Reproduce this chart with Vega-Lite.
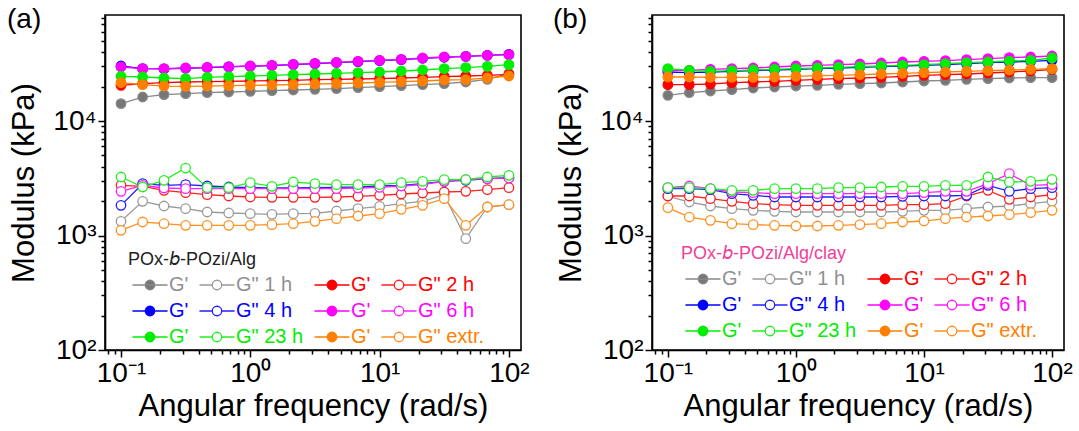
{
"$schema": "https://vega.github.io/schema/vega-lite/v6.json",
"background": "white",
"padding": {"left": 6, "top": 2, "right": 2, "bottom": 2},
"config": {
  "font": "Liberation Sans",
  "view": {"stroke": "black", "strokeWidth": 1.6},
  "axis": {"grid": false, "domainColor": "black", "domainWidth": 1.6, "tickColor": "black", "tickWidth": 1.5,
           "labelFont": "Liberation Sans", "labelFontSize": 28, "labelColor": "black", "labelPadding": 2,
           "titleFont": "Liberation Sans", "titleFontSize": 31, "titleFontWeight": "normal", "titleColor": "black",
           "labelOverlap": false, "labelFlush": false},
  "axisY": {"titlePadding": 12},
  "legend": {"orient": "none", "direction": "horizontal", "columns": 4, "symbolSize": 90, "symbolStrokeWidth": 1.3, "symbolOffset": 12, "labelOffset": 9,
             "columnPadding": 6, "rowPadding": 6, "labelFont": "Liberation Sans", "labelFontSize": 20, "labelLimit": 0,
             "titleFont": "Liberation Sans", "titleFontSize": 18, "titleFontWeight": "normal", "titlePadding": 6, "titleLimit": 0, "padding": 0}
},
"spacing": 22,
"resolve": {"scale": {"color": "independent", "fill": "independent", "x": "independent", "y": "independent"}, "legend": {"color": "independent"}},
"datasets": {
"a": [
{"k":"G' 1 h","f":0.1,"v":14170},{"k":"G' 1 h","f":0.147,"v":16200},{"k":"G' 1 h","f":0.215,"v":16980},{"k":"G' 1 h","f":0.316,"v":17320},{"k":"G' 1 h","f":0.464,"v":17670},{"k":"G' 1 h","f":0.681,"v":17920},{"k":"G' 1 h","f":1,"v":18160},{"k":"G' 1 h","f":1.47,"v":18400},{"k":"G' 1 h","f":2.15,"v":18650},{"k":"G' 1 h","f":3.16,"v":18900},{"k":"G' 1 h","f":4.64,"v":19160},{"k":"G' 1 h","f":6.81,"v":19540},{"k":"G' 1 h","f":10,"v":19940},{"k":"G' 1 h","f":14.7,"v":20340},{"k":"G' 1 h","f":21.5,"v":20760},{"k":"G' 1 h","f":31.6,"v":21180},{"k":"G' 1 h","f":46.4,"v":21910},{"k":"G' 1 h","f":68.1,"v":23120},{"k":"G' 1 h","f":100,"v":25900},
{"k":"G'' 1 h","f":0.1,"v":1330},{"k":"G'' 1 h","f":0.147,"v":1988},{"k":"G'' 1 h","f":0.215,"v":1810},{"k":"G'' 1 h","f":0.316,"v":1715},{"k":"G'' 1 h","f":0.464,"v":1604},{"k":"G'' 1 h","f":0.681,"v":1572},{"k":"G'' 1 h","f":1,"v":1551},{"k":"G'' 1 h","f":1.47,"v":1530},{"k":"G'' 1 h","f":2.15,"v":1551},{"k":"G'' 1 h","f":3.16,"v":1562},{"k":"G'' 1 h","f":4.64,"v":1637},{"k":"G'' 1 h","f":6.81,"v":1715},{"k":"G'' 1 h","f":10,"v":1797},{"k":"G'' 1 h","f":14.7,"v":1897},{"k":"G'' 1 h","f":21.5,"v":1988},{"k":"G'' 1 h","f":31.6,"v":2273},{"k":"G'' 1 h","f":46.4,"v":938},{"k":"G'' 1 h","f":68.1,"v":1774},{"k":"G'' 1 h","f":100,"v":1858},
{"k":"G' 2 h","f":0.1,"v":20480},{"k":"G' 2 h","f":0.147,"v":21180},{"k":"G' 2 h","f":0.215,"v":21620},{"k":"G' 2 h","f":0.316,"v":21910},{"k":"G' 2 h","f":0.464,"v":22060},{"k":"G' 2 h","f":0.681,"v":22210},{"k":"G' 2 h","f":1,"v":22360},{"k":"G' 2 h","f":1.47,"v":22510},{"k":"G' 2 h","f":2.15,"v":22660},{"k":"G' 2 h","f":3.16,"v":22970},{"k":"G' 2 h","f":4.64,"v":23120},{"k":"G' 2 h","f":6.81,"v":23280},{"k":"G' 2 h","f":10,"v":23430},{"k":"G' 2 h","f":14.7,"v":23750},{"k":"G' 2 h","f":21.5,"v":24060},{"k":"G' 2 h","f":31.6,"v":24390},{"k":"G' 2 h","f":46.4,"v":24720},{"k":"G' 2 h","f":68.1,"v":25050},{"k":"G' 2 h","f":100,"v":25560},
{"k":"G'' 2 h","f":0.1,"v":2742},{"k":"G'' 2 h","f":0.147,"v":2688},{"k":"G'' 2 h","f":0.215,"v":2480},{"k":"G'' 2 h","f":0.316,"v":2366},{"k":"G'' 2 h","f":0.464,"v":2273},{"k":"G'' 2 h","f":0.681,"v":2213},{"k":"G'' 2 h","f":1,"v":2169},{"k":"G'' 2 h","f":1.47,"v":2154},{"k":"G'' 2 h","f":2.15,"v":2154},{"k":"G'' 2 h","f":3.16,"v":2154},{"k":"G'' 2 h","f":4.64,"v":2169},{"k":"G'' 2 h","f":6.81,"v":2198},{"k":"G'' 2 h","f":10,"v":2242},{"k":"G'' 2 h","f":14.7,"v":2304},{"k":"G'' 2 h","f":21.5,"v":2351},{"k":"G'' 2 h","f":31.6,"v":2399},{"k":"G'' 2 h","f":46.4,"v":2430},{"k":"G'' 2 h","f":68.1,"v":2513},{"k":"G'' 2 h","f":100,"v":2617},
{"k":"G' 4 h","f":0.1,"v":30220},{"k":"G' 4 h","f":0.147,"v":28650},{"k":"G' 4 h","f":0.215,"v":28500},{"k":"G' 4 h","f":0.316,"v":28900},{"k":"G' 4 h","f":0.464,"v":29300},{"k":"G' 4 h","f":0.681,"v":29700},{"k":"G' 4 h","f":1,"v":30100},{"k":"G' 4 h","f":1.47,"v":30500},{"k":"G' 4 h","f":2.15,"v":31100},{"k":"G' 4 h","f":3.16,"v":31700},{"k":"G' 4 h","f":4.64,"v":32400},{"k":"G' 4 h","f":6.81,"v":33000},{"k":"G' 4 h","f":10,"v":33700},{"k":"G' 4 h","f":14.7,"v":34400},{"k":"G' 4 h","f":21.5,"v":35300},{"k":"G' 4 h","f":31.6,"v":36000},{"k":"G' 4 h","f":46.4,"v":36700},{"k":"G' 4 h","f":68.1,"v":37500},{"k":"G' 4 h","f":100,"v":38200},
{"k":"G'' 4 h","f":0.1,"v":1834},{"k":"G'' 4 h","f":0.147,"v":2835},{"k":"G'' 4 h","f":0.215,"v":2742},{"k":"G'' 4 h","f":0.316,"v":2779},{"k":"G'' 4 h","f":0.464,"v":2706},{"k":"G'' 4 h","f":0.681,"v":2652},{"k":"G'' 4 h","f":1,"v":2617},{"k":"G'' 4 h","f":1.47,"v":2599},{"k":"G'' 4 h","f":2.15,"v":2599},{"k":"G'' 4 h","f":3.16,"v":2617},{"k":"G'' 4 h","f":4.64,"v":2634},{"k":"G'' 4 h","f":6.81,"v":2652},{"k":"G'' 4 h","f":10,"v":2706},{"k":"G'' 4 h","f":14.7,"v":2742},{"k":"G'' 4 h","f":21.5,"v":2835},{"k":"G'' 4 h","f":31.6,"v":2972},{"k":"G'' 4 h","f":46.4,"v":3032},{"k":"G'' 4 h","f":68.1,"v":3136},{"k":"G'' 4 h","f":100,"v":3200},
{"k":"G' 6 h","f":0.1,"v":29620},{"k":"G' 6 h","f":0.147,"v":28650},{"k":"G' 6 h","f":0.215,"v":28650},{"k":"G' 6 h","f":0.316,"v":29030},{"k":"G' 6 h","f":0.464,"v":29420},{"k":"G' 6 h","f":0.681,"v":29820},{"k":"G' 6 h","f":1,"v":30220},{"k":"G' 6 h","f":1.47,"v":30630},{"k":"G' 6 h","f":2.15,"v":31250},{"k":"G' 6 h","f":3.16,"v":31890},{"k":"G' 6 h","f":4.64,"v":32540},{"k":"G' 6 h","f":6.81,"v":33200},{"k":"G' 6 h","f":10,"v":33870},{"k":"G' 6 h","f":14.7,"v":34560},{"k":"G' 6 h","f":21.5,"v":35500},{"k":"G' 6 h","f":31.6,"v":36220},{"k":"G' 6 h","f":46.4,"v":36700},{"k":"G' 6 h","f":68.1,"v":37450},{"k":"G' 6 h","f":100,"v":37950},
{"k":"G'' 6 h","f":0.1,"v":2430},{"k":"G'' 6 h","f":0.147,"v":2742},{"k":"G'' 6 h","f":0.215,"v":2599},{"k":"G'' 6 h","f":0.316,"v":2565},{"k":"G'' 6 h","f":0.464,"v":2565},{"k":"G'' 6 h","f":0.681,"v":2565},{"k":"G'' 6 h","f":1,"v":2565},{"k":"G'' 6 h","f":1.47,"v":2565},{"k":"G'' 6 h","f":2.15,"v":2565},{"k":"G'' 6 h","f":3.16,"v":2565},{"k":"G'' 6 h","f":4.64,"v":2565},{"k":"G'' 6 h","f":6.81,"v":2599},{"k":"G'' 6 h","f":10,"v":2634},{"k":"G'' 6 h","f":14.7,"v":2706},{"k":"G'' 6 h","f":21.5,"v":2779},{"k":"G'' 6 h","f":31.6,"v":2972},{"k":"G'' 6 h","f":46.4,"v":3073},{"k":"G'' 6 h","f":68.1,"v":3136},{"k":"G'' 6 h","f":100,"v":3178},
{"k":"G' 23 h","f":0.1,"v":24550},{"k":"G' 23 h","f":0.147,"v":24230},{"k":"G' 23 h","f":0.215,"v":23750},{"k":"G' 23 h","f":0.316,"v":23430},{"k":"G' 23 h","f":0.464,"v":24060},{"k":"G' 23 h","f":0.681,"v":24390},{"k":"G' 23 h","f":1,"v":24720},{"k":"G' 23 h","f":1.47,"v":25050},{"k":"G' 23 h","f":2.15,"v":25390},{"k":"G' 23 h","f":3.16,"v":25730},{"k":"G' 23 h","f":4.64,"v":26080},{"k":"G' 23 h","f":6.81,"v":26430},{"k":"G' 23 h","f":10,"v":26790},{"k":"G' 23 h","f":14.7,"v":27330},{"k":"G' 23 h","f":21.5,"v":27890},{"k":"G' 23 h","f":31.6,"v":28650},{"k":"G' 23 h","f":46.4,"v":29220},{"k":"G' 23 h","f":68.1,"v":30020},{"k":"G' 23 h","f":100,"v":31040},
{"k":"G'' 23 h","f":0.1,"v":3243},{"k":"G'' 23 h","f":0.147,"v":2652},{"k":"G'' 23 h","f":0.215,"v":3032},{"k":"G'' 23 h","f":0.316,"v":3885},{"k":"G'' 23 h","f":0.464,"v":2617},{"k":"G'' 23 h","f":0.681,"v":2617},{"k":"G'' 23 h","f":1,"v":2893},{"k":"G'' 23 h","f":1.47,"v":2688},{"k":"G'' 23 h","f":2.15,"v":2932},{"k":"G'' 23 h","f":3.16,"v":2835},{"k":"G'' 23 h","f":4.64,"v":2779},{"k":"G'' 23 h","f":6.81,"v":2779},{"k":"G'' 23 h","f":10,"v":2779},{"k":"G'' 23 h","f":14.7,"v":2893},{"k":"G'' 23 h","f":21.5,"v":2972},{"k":"G'' 23 h","f":31.6,"v":3073},{"k":"G'' 23 h","f":46.4,"v":3073},{"k":"G'' 23 h","f":68.1,"v":3243},{"k":"G'' 23 h","f":100,"v":3353},
{"k":"G' extr.","f":0.1,"v":21620},{"k":"G' extr.","f":0.147,"v":20760},{"k":"G' extr.","f":0.215,"v":20200},{"k":"G' extr.","f":0.316,"v":20080},{"k":"G' extr.","f":0.464,"v":20200},{"k":"G' extr.","f":0.681,"v":20340},{"k":"G' extr.","f":1,"v":20480},{"k":"G' extr.","f":1.47,"v":20620},{"k":"G' extr.","f":2.15,"v":20760},{"k":"G' extr.","f":3.16,"v":21040},{"k":"G' extr.","f":4.64,"v":21180},{"k":"G' extr.","f":6.81,"v":21470},{"k":"G' extr.","f":10,"v":21760},{"k":"G' extr.","f":14.7,"v":22060},{"k":"G' extr.","f":21.5,"v":22360},{"k":"G' extr.","f":31.6,"v":22810},{"k":"G' extr.","f":46.4,"v":22970},{"k":"G' extr.","f":68.1,"v":23750},{"k":"G' extr.","f":100,"v":24720},
{"k":"G'' extr.","f":0.1,"v":1109},{"k":"G'' extr.","f":0.147,"v":1312},{"k":"G'' extr.","f":0.215,"v":1268},{"k":"G'' extr.","f":0.316,"v":1227},{"k":"G'' extr.","f":0.464,"v":1227},{"k":"G'' extr.","f":0.681,"v":1227},{"k":"G'' extr.","f":1,"v":1227},{"k":"G'' extr.","f":1.47,"v":1243},{"k":"G'' extr.","f":2.15,"v":1268},{"k":"G'' extr.","f":3.16,"v":1330},{"k":"G'' extr.","f":4.64,"v":1403},{"k":"G'' extr.","f":6.81,"v":1480},{"k":"G'' extr.","f":10,"v":1551},{"k":"G'' extr.","f":14.7,"v":1692},{"k":"G'' extr.","f":21.5,"v":1834},{"k":"G'' extr.","f":31.6,"v":2097},{"k":"G'' extr.","f":46.4,"v":1227},{"k":"G'' extr.","f":68.1,"v":1774},{"k":"G'' extr.","f":100,"v":1858}
],
"b": [
{"k":"G' 1 h","f":0.1,"v":16750},{"k":"G' 1 h","f":0.147,"v":17670},{"k":"G' 1 h","f":0.215,"v":18280},{"k":"G' 1 h","f":0.316,"v":18780},{"k":"G' 1 h","f":0.464,"v":19420},{"k":"G' 1 h","f":0.681,"v":19810},{"k":"G' 1 h","f":1,"v":20200},{"k":"G' 1 h","f":1.47,"v":20480},{"k":"G' 1 h","f":2.15,"v":20900},{"k":"G' 1 h","f":3.16,"v":21180},{"k":"G' 1 h","f":4.64,"v":21470},{"k":"G' 1 h","f":6.81,"v":21910},{"k":"G' 1 h","f":10,"v":22360},{"k":"G' 1 h","f":14.7,"v":22660},{"k":"G' 1 h","f":21.5,"v":23120},{"k":"G' 1 h","f":31.6,"v":23430},{"k":"G' 1 h","f":46.4,"v":23750},{"k":"G' 1 h","f":68.1,"v":23900},{"k":"G' 1 h","f":100,"v":23900},
{"k":"G'' 1 h","f":0.1,"v":2213},{"k":"G'' 1 h","f":0.147,"v":1961},{"k":"G'' 1 h","f":0.215,"v":1810},{"k":"G'' 1 h","f":0.316,"v":1715},{"k":"G'' 1 h","f":0.464,"v":1659},{"k":"G'' 1 h","f":0.681,"v":1626},{"k":"G'' 1 h","f":1,"v":1604},{"k":"G'' 1 h","f":1.47,"v":1604},{"k":"G'' 1 h","f":2.15,"v":1604},{"k":"G'' 1 h","f":3.16,"v":1604},{"k":"G'' 1 h","f":4.64,"v":1604},{"k":"G'' 1 h","f":6.81,"v":1626},{"k":"G'' 1 h","f":10,"v":1659},{"k":"G'' 1 h","f":14.7,"v":1659},{"k":"G'' 1 h","f":21.5,"v":1715},{"k":"G'' 1 h","f":31.6,"v":1774},{"k":"G'' 1 h","f":46.4,"v":1810},{"k":"G'' 1 h","f":68.1,"v":1897},{"k":"G'' 1 h","f":100,"v":1988},
{"k":"G' 2 h","f":0.1,"v":20760},{"k":"G' 2 h","f":0.147,"v":20760},{"k":"G' 2 h","f":0.215,"v":21040},{"k":"G' 2 h","f":0.316,"v":21620},{"k":"G' 2 h","f":0.464,"v":21910},{"k":"G' 2 h","f":0.681,"v":22210},{"k":"G' 2 h","f":1,"v":22660},{"k":"G' 2 h","f":1.47,"v":23120},{"k":"G' 2 h","f":2.15,"v":23430},{"k":"G' 2 h","f":3.16,"v":23750},{"k":"G' 2 h","f":4.64,"v":24060},{"k":"G' 2 h","f":6.81,"v":24550},{"k":"G' 2 h","f":10,"v":25050},{"k":"G' 2 h","f":14.7,"v":25390},{"k":"G' 2 h","f":21.5,"v":25730},{"k":"G' 2 h","f":31.6,"v":26260},{"k":"G' 2 h","f":46.4,"v":26790},{"k":"G' 2 h","f":68.1,"v":27330},{"k":"G' 2 h","f":100,"v":28270},
{"k":"G'' 2 h","f":0.1,"v":2213},{"k":"G'' 2 h","f":0.147,"v":2213},{"k":"G'' 2 h","f":0.215,"v":2097},{"k":"G'' 2 h","f":0.316,"v":1988},{"k":"G'' 2 h","f":0.464,"v":1897},{"k":"G'' 2 h","f":0.681,"v":1858},{"k":"G'' 2 h","f":1,"v":1834},{"k":"G'' 2 h","f":1.47,"v":1834},{"k":"G'' 2 h","f":2.15,"v":1834},{"k":"G'' 2 h","f":3.16,"v":1834},{"k":"G'' 2 h","f":4.64,"v":1834},{"k":"G'' 2 h","f":6.81,"v":1858},{"k":"G'' 2 h","f":10,"v":1858},{"k":"G'' 2 h","f":14.7,"v":1897},{"k":"G'' 2 h","f":21.5,"v":2213},{"k":"G'' 2 h","f":31.6,"v":2480},{"k":"G'' 2 h","f":46.4,"v":2069},{"k":"G'' 2 h","f":68.1,"v":2169},{"k":"G'' 2 h","f":100,"v":2273},
{"k":"G' 4 h","f":0.1,"v":26790},{"k":"G' 4 h","f":0.147,"v":26430},{"k":"G' 4 h","f":0.215,"v":26790},{"k":"G' 4 h","f":0.316,"v":27140},{"k":"G' 4 h","f":0.464,"v":27510},{"k":"G' 4 h","f":0.681,"v":27890},{"k":"G' 4 h","f":1,"v":28270},{"k":"G' 4 h","f":1.47,"v":28650},{"k":"G' 4 h","f":2.15,"v":29030},{"k":"G' 4 h","f":3.16,"v":29420},{"k":"G' 4 h","f":4.64,"v":29820},{"k":"G' 4 h","f":6.81,"v":30220},{"k":"G' 4 h","f":10,"v":30630},{"k":"G' 4 h","f":14.7,"v":31040},{"k":"G' 4 h","f":21.5,"v":31670},{"k":"G' 4 h","f":31.6,"v":32320},{"k":"G' 4 h","f":46.4,"v":32750},{"k":"G' 4 h","f":68.1,"v":33200},{"k":"G' 4 h","f":100,"v":33870},
{"k":"G'' 4 h","f":0.1,"v":2565},{"k":"G'' 4 h","f":0.147,"v":2565},{"k":"G'' 4 h","f":0.215,"v":2513},{"k":"G'' 4 h","f":0.316,"v":2319},{"k":"G'' 4 h","f":0.464,"v":2242},{"k":"G'' 4 h","f":0.681,"v":2169},{"k":"G'' 4 h","f":1,"v":2169},{"k":"G'' 4 h","f":1.47,"v":2169},{"k":"G'' 4 h","f":2.15,"v":2169},{"k":"G'' 4 h","f":3.16,"v":2169},{"k":"G'' 4 h","f":4.64,"v":2169},{"k":"G'' 4 h","f":6.81,"v":2198},{"k":"G'' 4 h","f":10,"v":2213},{"k":"G'' 4 h","f":14.7,"v":2213},{"k":"G'' 4 h","f":21.5,"v":2242},{"k":"G'' 4 h","f":31.6,"v":2742},{"k":"G'' 4 h","f":46.4,"v":2430},{"k":"G'' 4 h","f":68.1,"v":2565},{"k":"G'' 4 h","f":100,"v":2617},
{"k":"G' 6 h","f":0.1,"v":27700},{"k":"G' 6 h","f":0.147,"v":27700},{"k":"G' 6 h","f":0.215,"v":28270},{"k":"G' 6 h","f":0.316,"v":28650},{"k":"G' 6 h","f":0.464,"v":29030},{"k":"G' 6 h","f":0.681,"v":29620},{"k":"G' 6 h","f":1,"v":30220},{"k":"G' 6 h","f":1.47,"v":30630},{"k":"G' 6 h","f":2.15,"v":31040},{"k":"G' 6 h","f":3.16,"v":31460},{"k":"G' 6 h","f":4.64,"v":32100},{"k":"G' 6 h","f":6.81,"v":32750},{"k":"G' 6 h","f":10,"v":33200},{"k":"G' 6 h","f":14.7,"v":33650},{"k":"G' 6 h","f":21.5,"v":34330},{"k":"G' 6 h","f":31.6,"v":35030},{"k":"G' 6 h","f":46.4,"v":35750},{"k":"G' 6 h","f":68.1,"v":36220},{"k":"G' 6 h","f":100,"v":36950},
{"k":"G'' 6 h","f":0.1,"v":2617},{"k":"G'' 6 h","f":0.147,"v":2706},{"k":"G'' 6 h","f":0.215,"v":2565},{"k":"G'' 6 h","f":0.316,"v":2399},{"k":"G'' 6 h","f":0.464,"v":2366},{"k":"G'' 6 h","f":0.681,"v":2319},{"k":"G'' 6 h","f":1,"v":2319},{"k":"G'' 6 h","f":1.47,"v":2319},{"k":"G'' 6 h","f":2.15,"v":2319},{"k":"G'' 6 h","f":3.16,"v":2319},{"k":"G'' 6 h","f":4.64,"v":2319},{"k":"G'' 6 h","f":6.81,"v":2319},{"k":"G'' 6 h","f":10,"v":2366},{"k":"G'' 6 h","f":14.7,"v":2430},{"k":"G'' 6 h","f":21.5,"v":2430},{"k":"G'' 6 h","f":31.6,"v":2835},{"k":"G'' 6 h","f":46.4,"v":3469},{"k":"G'' 6 h","f":68.1,"v":2742},{"k":"G'' 6 h","f":100,"v":2779},
{"k":"G' 23 h","f":0.1,"v":28650},{"k":"G' 23 h","f":0.147,"v":27700},{"k":"G' 23 h","f":0.215,"v":27140},{"k":"G' 23 h","f":0.316,"v":27510},{"k":"G' 23 h","f":0.464,"v":27890},{"k":"G' 23 h","f":0.681,"v":28270},{"k":"G' 23 h","f":1,"v":28650},{"k":"G' 23 h","f":1.47,"v":29030},{"k":"G' 23 h","f":2.15,"v":29420},{"k":"G' 23 h","f":3.16,"v":29820},{"k":"G' 23 h","f":4.64,"v":30220},{"k":"G' 23 h","f":6.81,"v":30630},{"k":"G' 23 h","f":10,"v":31040},{"k":"G' 23 h","f":14.7,"v":31670},{"k":"G' 23 h","f":21.5,"v":32320},{"k":"G' 23 h","f":31.6,"v":32750},{"k":"G' 23 h","f":46.4,"v":33410},{"k":"G' 23 h","f":68.1,"v":33870},{"k":"G' 23 h","f":100,"v":35500},
{"k":"G'' 23 h","f":0.1,"v":2617},{"k":"G'' 23 h","f":0.147,"v":2617},{"k":"G'' 23 h","f":0.215,"v":2565},{"k":"G'' 23 h","f":0.316,"v":2480},{"k":"G'' 23 h","f":0.464,"v":2480},{"k":"G'' 23 h","f":0.681,"v":2565},{"k":"G'' 23 h","f":1,"v":2565},{"k":"G'' 23 h","f":1.47,"v":2565},{"k":"G'' 23 h","f":2.15,"v":2617},{"k":"G'' 23 h","f":3.16,"v":2617},{"k":"G'' 23 h","f":4.64,"v":2652},{"k":"G'' 23 h","f":6.81,"v":2688},{"k":"G'' 23 h","f":10,"v":2688},{"k":"G'' 23 h","f":14.7,"v":2742},{"k":"G'' 23 h","f":21.5,"v":2742},{"k":"G'' 23 h","f":31.6,"v":3243},{"k":"G'' 23 h","f":46.4,"v":2932},{"k":"G'' 23 h","f":68.1,"v":2972},{"k":"G'' 23 h","f":100,"v":3094},
{"k":"G' extr.","f":0.1,"v":24230},{"k":"G' extr.","f":0.147,"v":24230},{"k":"G' extr.","f":0.215,"v":24060},{"k":"G' extr.","f":0.316,"v":24060},{"k":"G' extr.","f":0.464,"v":24060},{"k":"G' extr.","f":0.681,"v":24230},{"k":"G' extr.","f":1,"v":24550},{"k":"G' extr.","f":1.47,"v":24890},{"k":"G' extr.","f":2.15,"v":25050},{"k":"G' extr.","f":3.16,"v":25390},{"k":"G' extr.","f":4.64,"v":25730},{"k":"G' extr.","f":6.81,"v":26080},{"k":"G' extr.","f":10,"v":26430},{"k":"G' extr.","f":14.7,"v":26790},{"k":"G' extr.","f":21.5,"v":27140},{"k":"G' extr.","f":31.6,"v":27510},{"k":"G' extr.","f":46.4,"v":27890},{"k":"G' extr.","f":68.1,"v":28270},{"k":"G' extr.","f":100,"v":28650},
{"k":"G'' extr.","f":0.1,"v":1750},{"k":"G'' extr.","f":0.147,"v":1450},{"k":"G'' extr.","f":0.215,"v":1356},{"k":"G'' extr.","f":0.316,"v":1268},{"k":"G'' extr.","f":0.464,"v":1243},{"k":"G'' extr.","f":0.681,"v":1227},{"k":"G'' extr.","f":1,"v":1211},{"k":"G'' extr.","f":1.47,"v":1211},{"k":"G'' extr.","f":2.15,"v":1227},{"k":"G'' extr.","f":3.16,"v":1243},{"k":"G'' extr.","f":4.64,"v":1268},{"k":"G'' extr.","f":6.81,"v":1312},{"k":"G'' extr.","f":10,"v":1338},{"k":"G'' extr.","f":14.7,"v":1403},{"k":"G'' extr.","f":21.5,"v":1450},{"k":"G'' extr.","f":31.6,"v":1480},{"k":"G'' extr.","f":46.4,"v":1520},{"k":"G'' extr.","f":68.1,"v":1583},{"k":"G'' extr.","f":100,"v":1659}
]
},
"hconcat": [
{
  "width": 416, "height": 335,
  "title": {"text": "(a)", "anchor": "start", "frame": "group", "dx": -98, "dy": 30, "offset": 0, "fontSize": 28, "fontWeight": "normal", "font": "Liberation Sans", "color": "black"},
  "data": {"name": "a"},
  "encoding": {
    "x": {"field": "f", "type": "quantitative", "title": "Angular frequency (rad/s)",
          "scale": {"type": "log", "domain": [0.0752, 124], "nice": false},
          "axis": {"values": [0.08,0.09,0.1,0.2,0.3,0.4,0.5,0.6,0.7,0.8,0.9,1,2,3,4,5,6,7,8,9,10,20,30,40,50,60,70,80,90,100],
                   "labelExpr": "datum.value==0.1?'10⁻¹':datum.value==1?'10⁰':datum.value==10?'10¹':datum.value==100?'10²':''",
                   "tickSize": {"condition": {"test": "datum.value==0.1||datum.value==1||datum.value==10||datum.value==100", "value": 7}, "value": 4}}},
    "y": {"field": "v", "type": "quantitative", "title": "Modulus (kPa)",
          "scale": {"type": "log", "domain": [100, 84300], "nice": false},
          "axis": {"values": [100,200,300,400,500,600,700,800,900,1000,2000,3000,4000,5000,6000,7000,8000,9000,10000,20000,30000,40000,50000,60000,70000,80000],
                   "labelExpr": "datum.value==100?'10²':datum.value==1000?'10³':datum.value==10000?'10⁴':''",
                   "tickSize": {"condition": {"test": "datum.value==100||datum.value==1000||datum.value==10000", "value": 7}, "value": 4}}}
  },
  "layer": [
    {"mark": {"type": "line", "strokeWidth": 1.3},
     "encoding": {"color": {"field": "k", "type": "nominal",
        "scale": {"domain": ["G' 1 h","G'' 1 h","G' 2 h","G'' 2 h","G' 4 h","G'' 4 h","G' 6 h","G'' 6 h","G' 23 h","G'' 23 h","G' extr.","G'' extr."],
                  "range": ["#888888","#9a9a9a","#ff0000","#ff2020","#0000ff","#2020ff","#ff00ff","#ff20ff","#00ee00","#20f020","#ff8000","#ff9020"]},
        "legend": {"title": "POx-𝘣-POzi/Alg", "titleColor": "#222222", "legendX": 23, "legendY": 236,
                   "labelExpr": "indexof(datum.value,\"G''\")==0 ? 'G\"' + slice(datum.value,3) : \"G'\"",
                   "encode": {
                     "symbols": {"update": {
                        "shape": {"signal": "indexof(datum.value,\"G''\")==0 ? 'M-3.7,0H-1M1,0H3.7M-1,0A1,1,0,1,1,1,0A1,1,0,1,1,-1,0Z' : 'M-3.7,0H3.7M-1,0A1,1,0,1,1,1,0A1,1,0,1,1,-1,0Z'"},
                        "fill": {"signal": "indexof(datum.value,\"G''\")==0 ? 'white' : (indexof(datum.value,'23 h')>=0 ? '#00ee00' : indexof(datum.value,'1 h')>=0 ? '#888888' : indexof(datum.value,'2 h')>=0 ? '#ff0000' : indexof(datum.value,'4 h')>=0 ? '#0000ff' : indexof(datum.value,'6 h')>=0 ? '#ff00ff' : '#ff8000')"},
                        "stroke": {"signal": "indexof(datum.value,'23 h')>=0 ? '#00ee00' : indexof(datum.value,'1 h')>=0 ? '#888888' : indexof(datum.value,'2 h')>=0 ? '#ff0000' : indexof(datum.value,'4 h')>=0 ? '#0000ff' : indexof(datum.value,'6 h')>=0 ? '#ff00ff' : '#ff8000'"},
                        "strokeWidth": {"value": 1.3},
                        "opacity": {"value": 1}}},
                     "labels": {"update": {
                        "fill": {"signal": "indexof(datum.value,'23 h')>=0 ? '#00ee00' : indexof(datum.value,'1 h')>=0 ? '#909090' : indexof(datum.value,'2 h')>=0 ? '#ff0000' : indexof(datum.value,'4 h')>=0 ? '#0000ff' : indexof(datum.value,'6 h')>=0 ? '#ff00ff' : '#ff8000'"}}}}}}}},
    {"mark": {"type": "point", "shape": "circle", "size": 90, "strokeWidth": 1.3, "opacity": 1, "fillOpacity": 1},
     "encoding": {"color": {"field": "k", "type": "nominal"},
        "fill": {"field": "k", "type": "nominal", "legend": null,
          "scale": {"domain": ["G' 1 h","G'' 1 h","G' 2 h","G'' 2 h","G' 4 h","G'' 4 h","G' 6 h","G'' 6 h","G' 23 h","G'' 23 h","G' extr.","G'' extr."],
                    "range": ["#777777","white","#ff0000","white","#0000ff","white","#ff00ff","white","#00ee00","white","#ff8000","white"]}}}}
  ]
},
{
  "width": 412, "height": 335,
  "title": {"text": "(b)", "anchor": "start", "frame": "group", "dx": -99, "dy": 30, "offset": 0, "fontSize": 28, "fontWeight": "normal", "font": "Liberation Sans", "color": "black"},
  "data": {"name": "b"},
  "encoding": {
    "x": {"field": "f", "type": "quantitative", "title": "Angular frequency (rad/s)",
          "scale": {"type": "log", "domain": [0.0752, 124], "nice": false},
          "axis": {"values": [0.08,0.09,0.1,0.2,0.3,0.4,0.5,0.6,0.7,0.8,0.9,1,2,3,4,5,6,7,8,9,10,20,30,40,50,60,70,80,90,100],
                   "labelExpr": "datum.value==0.1?'10⁻¹':datum.value==1?'10⁰':datum.value==10?'10¹':datum.value==100?'10²':''",
                   "tickSize": {"condition": {"test": "datum.value==0.1||datum.value==1||datum.value==10||datum.value==100", "value": 7}, "value": 4}}},
    "y": {"field": "v", "type": "quantitative", "title": "Modulus (kPa)",
          "scale": {"type": "log", "domain": [100, 84300], "nice": false},
          "axis": {"values": [100,200,300,400,500,600,700,800,900,1000,2000,3000,4000,5000,6000,7000,8000,9000,10000,20000,30000,40000,50000,60000,70000,80000],
                   "labelExpr": "datum.value==100?'10²':datum.value==1000?'10³':datum.value==10000?'10⁴':''",
                   "tickSize": {"condition": {"test": "datum.value==100||datum.value==1000||datum.value==10000", "value": 7}, "value": 4}}}
  },
  "layer": [
    {"mark": {"type": "line", "strokeWidth": 1.3},
     "encoding": {"color": {"field": "k", "type": "nominal",
        "scale": {"domain": ["G' 1 h","G'' 1 h","G' 2 h","G'' 2 h","G' 4 h","G'' 4 h","G' 6 h","G'' 6 h","G' 23 h","G'' 23 h","G' extr.","G'' extr."],
                  "range": ["#888888","#9a9a9a","#ff0000","#ff2020","#0000ff","#2020ff","#ff00ff","#ff20ff","#00ee00","#20f020","#ff8000","#ff9020"]},
        "legend": {"title": "POx-𝘣-POzi/Alg/clay", "titleColor": "#f0409a", "legendX": 29, "legendY": 230,
                   "labelExpr": "indexof(datum.value,\"G''\")==0 ? 'G\"' + slice(datum.value,3) : \"G'\"",
                   "encode": {
                     "symbols": {"update": {
                        "shape": {"signal": "indexof(datum.value,\"G''\")==0 ? 'M-3.7,0H-1M1,0H3.7M-1,0A1,1,0,1,1,1,0A1,1,0,1,1,-1,0Z' : 'M-3.7,0H3.7M-1,0A1,1,0,1,1,1,0A1,1,0,1,1,-1,0Z'"},
                        "fill": {"signal": "indexof(datum.value,\"G''\")==0 ? 'white' : (indexof(datum.value,'23 h')>=0 ? '#00ee00' : indexof(datum.value,'1 h')>=0 ? '#888888' : indexof(datum.value,'2 h')>=0 ? '#ff0000' : indexof(datum.value,'4 h')>=0 ? '#0000ff' : indexof(datum.value,'6 h')>=0 ? '#ff00ff' : '#ff8000')"},
                        "stroke": {"signal": "indexof(datum.value,'23 h')>=0 ? '#00ee00' : indexof(datum.value,'1 h')>=0 ? '#888888' : indexof(datum.value,'2 h')>=0 ? '#ff0000' : indexof(datum.value,'4 h')>=0 ? '#0000ff' : indexof(datum.value,'6 h')>=0 ? '#ff00ff' : '#ff8000'"},
                        "strokeWidth": {"value": 1.3},
                        "opacity": {"value": 1}}},
                     "labels": {"update": {
                        "fill": {"signal": "indexof(datum.value,'23 h')>=0 ? '#00ee00' : indexof(datum.value,'1 h')>=0 ? '#909090' : indexof(datum.value,'2 h')>=0 ? '#ff0000' : indexof(datum.value,'4 h')>=0 ? '#0000ff' : indexof(datum.value,'6 h')>=0 ? '#ff00ff' : '#ff8000'"}}}}}}}},
    {"mark": {"type": "point", "shape": "circle", "size": 90, "strokeWidth": 1.3, "opacity": 1, "fillOpacity": 1},
     "encoding": {"color": {"field": "k", "type": "nominal"},
        "fill": {"field": "k", "type": "nominal", "legend": null,
          "scale": {"domain": ["G' 1 h","G'' 1 h","G' 2 h","G'' 2 h","G' 4 h","G'' 4 h","G' 6 h","G'' 6 h","G' 23 h","G'' 23 h","G' extr.","G'' extr."],
                    "range": ["#777777","white","#ff0000","white","#0000ff","white","#ff00ff","white","#00ee00","white","#ff8000","white"]}}}}
  ]
}
]
}
